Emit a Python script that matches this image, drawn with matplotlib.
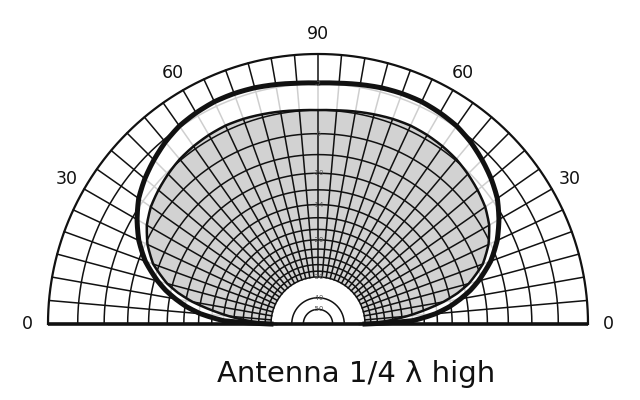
import numpy as np
import matplotlib
matplotlib.use("Agg")
import matplotlib.pyplot as plt

# ---- data ----
elevation_deg = [0, 2, 5, 7.5, 10, 12.5, 15, 20, 25, 30, 35, 40, 45, 50, 55, 60, 65, 70, 75, 80, 85, 90,
                 95, 100, 105, 110, 115, 120, 125, 130, 135, 140, 145, 150, 155, 160, 165, 167.5, 170,
                 172.5, 175, 178, 180]
broadside_db = [-30, -18, -14.2, -12.2, -10.7, -9.4, -8.35, -6.6, -5.35, -4.4, -3.6, -3.05, -2.6, -2.2,
                -1.9, -1.75, -1.65, -1.65, -1.7, -1.8, -1.9, -1.95,
                -1.9, -1.8, -1.7, -1.65, -1.65, -1.75, -1.9, -2.2, -2.6, -3.05, -3.6, -4.4, -5.35, -6.6,
                -8.35, -9.4, -10.7, -12.2, -14.2, -18, -30]
endfire_db = [-32, -24.5, -19, -15.7, -12.9, -10.9, -9.4, -7.4, -6.2, -5.35, -4.8, -4.45, -4.15, -3.9,
              -3.75, -3.65, -3.6, -3.65, -3.75, -3.85, -3.95, -4.0,
              -3.95, -3.85, -3.75, -3.65, -3.6, -3.65, -3.75, -3.9, -4.15, -4.45, -4.8, -5.35, -6.2,
              -7.4, -9.4, -10.9, -12.9, -15.7, -19, -24.5, -32]

ring_db = [-2, -4, -6, -8, -10, -12, -14, -16, -18, -20, -22, -24, -26, -28, -30]
inner_ring_db = [-40, -50]
ring_labels = {-2: "-2", -6: "-6", -10: "-10", -14: "-14", -20: "-20", -30: "-30", -40: "-40", -50: "-50"}
spoke_deg = list(range(5, 180, 5))
angle_label_deg = [0, 30, 60, 90, 120, 150, 180]
angle_label_txt = ["0", "30", "60", "90", "60", "30", "0"]
title = "Antenna 1/4 λ high"

INK = "#111111"


def db_to_r(db):
    # ARRL log-periodic scale: radius x0.89 for every 2 dB
    return 0.89 ** (-np.asarray(db, dtype=float) / 2.0)


def to_xy(theta_deg, r):
    t = np.deg2rad(np.asarray(theta_deg, dtype=float))
    return r * np.cos(t), r * np.sin(t)


r_out = db_to_r(broadside_db)
r_in = db_to_r(endfire_db)
r30 = float(db_to_r(-30))
arc = np.linspace(0, 180, 361)

fig = plt.figure(figsize=(6.4, 4.0), dpi=100)
ax = fig.add_axes([48 / 640, 76 / 400, 540 / 640, 270 / 400])
ax.set_xlim(-1, 1)
ax.set_ylim(0, 1)
ax.set_aspect("equal")
ax.axis("off")

# shaded end-fire pattern (outside the -30 dB core)
ang_fine = np.linspace(0, 180, 721)
r_in_fine = np.interp(ang_fine, elevation_deg, r_in)
r_out_fine = np.interp(ang_fine, elevation_deg, r_out)
xs, ys = to_xy(ang_fine, np.maximum(r_in_fine, r30))
xc, yc = to_xy(ang_fine[::-1], np.full(ang_fine.size, r30))
ax.fill(np.r_[xs, xc], np.r_[ys, yc], color="#d2d2d2", zorder=1, linewidth=0)

# grid rings
for db in ring_db + inner_ring_db:
    x, y = to_xy(arc, float(db_to_r(db)))
    ax.plot(x, y, color=INK, linewidth=1.1, zorder=2)
# spokes
for a in spoke_deg:
    x, y = to_xy([a, a], np.array([r30, 1.0]))
    ax.plot(x, y, color=INK, linewidth=1.1, zorder=2)

# fade the grid between the two patterns
xo, yo = to_xy(ang_fine, r_out_fine)
xi, yi = to_xy(ang_fine[::-1], r_in_fine[::-1])
ax.fill(np.r_[xo, xi], np.r_[yo, yi], color="white", alpha=0.8, zorder=2.5, linewidth=0)

# outer circle and baseline
x, y = to_xy(arc, 1.0)
ax.plot(x, y, color=INK, linewidth=1.6, zorder=3, clip_on=False)
ax.plot([-1, 1], [0, 0], color=INK, linewidth=2.6, zorder=3, clip_on=False, solid_capstyle="butt")

# patterns
x, y = to_xy(ang_fine, r_out_fine)
ax.plot(x, y, color=INK, linewidth=3.6, zorder=4, clip_on=False)
x, y = to_xy(ang_fine, r_in_fine)
ax.plot(x, y, color=INK, linewidth=1.8, zorder=3.5, clip_on=False)

# ring labels along the vertical
for db, txt in ring_labels.items():
    ax.text(0, float(db_to_r(db)), txt, fontsize=5, color="#555555",
            ha="center", va="center", zorder=5)

# angle labels
for a, t in zip(angle_label_deg, angle_label_txt):
    x, y = to_xy(a, 1.075)
    ax.text(x, y, t, fontsize=12.5, ha="center", va="center", color=INK, clip_on=False)

fig.text(356.5 / 640, 18 / 400, title, fontsize=21, ha="center", va="baseline", color=INK)

fig.savefig("out.png", dpi=100, facecolor="white")
